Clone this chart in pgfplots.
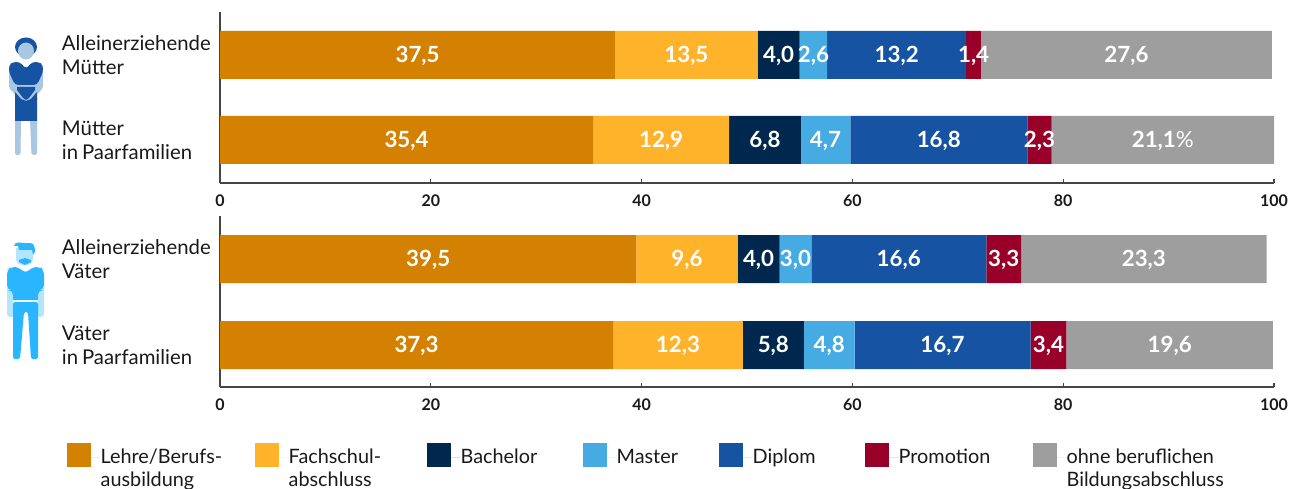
\documentclass[border=0pt]{standalone}
\usepackage{pgfplots}
\pgfplotsset{compat=1.18}
\usepackage{fontspec}
\setmainfont{Lato}
\definecolor{cLehre}{HTML}{D48000}
\definecolor{cFach}{HTML}{FFB32B}
\definecolor{cBach}{HTML}{00274D}
\definecolor{cMast}{HTML}{47ABE3}
\definecolor{cDipl}{HTML}{1653A3}
\definecolor{cProm}{HTML}{990029}
\definecolor{cOhne}{HTML}{9E9E9E}
\definecolor{cAxis}{HTML}{444444}
\definecolor{cWomanL}{HTML}{A9C6E2}
\definecolor{cManD}{HTML}{29B6FF}
\definecolor{cManL}{HTML}{B3E5FF}
\newcommand{\pct}{{\mdseries\%}}
\pgfplotsset{
  stackedbars/.style={
    xbar stacked, scale only axis, width=632.4pt, height=102.6pt,
    xmin=0, xmax=100, bar width=28.8pt, clip=false,
    axis x line*=bottom, axis y line*=left,
    axis line style={cAxis,line width=0.7pt,-},
    xtick={0,20,40,60,80,100},
    x tick style={cAxis,line width=0.7pt},
    major tick length=2.6pt, tickwidth=2.6pt,
    xtick align=inside,
    ytick={0,1},
    y tick style={draw=none},
    tick label style={font=\fontsize{9.6}{11}\selectfont\bfseries},
    /pgf/number format/assume math mode=true,
    xticklabel style={yshift=-3.4pt,text=black!90},
    yticklabel style={font=\fontsize{12.2}{14.4}\selectfont,align=left,text width=100pt,anchor=east,inner sep=0pt,xshift=5.4pt,text=black!90},
    point meta=explicit symbolic,
    nodes near coords={\pgfplotspointmeta},
    every node near coord/.append style={
      anchor=center, text=white, inner sep=0pt, yshift=-0.5pt,
      font=\fontsize{13.4}{15}\selectfont\bfseries},
    every axis plot/.append style={draw=none},
  }
}
\begin{document}
\begin{tikzpicture}
\useasboundingbox (0,0) rectangle (774pt,293.4pt);
% upper axis
\begin{axis}[stackedbars, at={(132pt,183.6pt)}, anchor=south west,
  ymin=-0.506, ymax=1.506,
  yticklabels={{Mütter\\in\kern2.3pt Paarfamilien},{Alleinerziehende\\Mütter}}]
\addplot[fill=cLehre] table[x=v,y=c,meta=l] {
v c l
35.4 0 35,4
37.5 1 37,5
};
\addplot[fill=cFach] table[x=v,y=c,meta=l] {
v c l
12.9 0 12,9
13.5 1 13,5
};
\addplot[fill=cBach] table[x=v,y=c,meta=l] {
v c l
6.8 0 6,8
4.0 1 4,0
};
\addplot[fill=cMast] table[x=v,y=c,meta=l] {
v c l
4.7 0 4,7
2.6 1 2,6
};
\addplot[fill=cDipl] table[x=v,y=c,meta=l] {
v c l
16.8 0 16,8
13.2 1 13,2
};
\addplot[fill=cProm] table[x=v,y=c,meta=l] {
v c l
2.3 0 2,3
1.4 1 1,4
};
\addplot[fill=cOhne] table[x=v,y=c,meta=l] {
v c l
21.1 0 21,1\pct
27.6 1 27,6
};
\end{axis}
% lower axis
\begin{axis}[stackedbars, at={(132pt,61.2pt)}, anchor=south west,
  ymin=-0.488, ymax=1.5,
  yticklabels={{Väter\\in\kern2.3pt Paarfamilien},{Alleinerziehende\\Väter}},
  legend columns=7,
  legend style={at={(-92pt,-33.9pt)},anchor=north west,draw=none,fill=none,
    inner sep=0pt,outer sep=0pt,
    font=\fontsize{11.9}{14}\selectfont,
    nodes={inner sep=0pt,outer sep=0pt,text=black!90},
    /tikz/every even column/.style={column sep=0pt},
    /tikz/every odd column/.style={column sep=0pt},
    column sep=0pt},
  legend cell align=left,
  legend image code/.code={\fill[#1,draw=none] (0pt,-6pt) rectangle (14.4pt,8.4pt);
     \path (0pt,0pt) -- (20.4pt,0pt);},
]
\addplot[fill=cLehre] table[x=v,y=c,meta=l] {
v c l
37.3 0 37,3
39.5 1 39,5
};
\addplot[fill=cFach] table[x=v,y=c,meta=l] {
v c l
12.3 0 12,3
9.6 1 9,6
};
\addplot[fill=cBach] table[x=v,y=c,meta=l] {
v c l
5.8 0 5,8
4.0 1 4,0
};
\addplot[fill=cMast] table[x=v,y=c,meta=l] {
v c l
4.8 0 4,8
3.0 1 3,0
};
\addplot[fill=cDipl] table[x=v,y=c,meta=l] {
v c l
16.7 0 16,7
16.6 1 16,6
};
\addplot[fill=cProm] table[x=v,y=c,meta=l] {
v c l
3.4 0 3,4
3.3 1 3,3
};
\addplot[fill=cOhne] table[x=v,y=c,meta=l] {
v c l
19.6 0 19,6
23.3 1 23,3
};
\addlegendentry{\parbox[t]{92.4pt}{Lehre/Berufs-\\ausbildung}}
\addlegendentry{\parbox[t]{82.8pt}{Fachschul-\\abschluss}}
\addlegendentry{\parbox[t]{73.2pt}{Bachelor}}
\addlegendentry{\parbox[t]{61.2pt}{Master}}
\addlegendentry{\parbox[t]{67.2pt}{Diplom}}
\addlegendentry{\parbox[t]{80.4pt}{Promotion}}
\addlegendentry{\parbox[t]{110pt}{ohne beruflichen\\Bildungsabschluss}}
\end{axis}
% icons (pixel coordinates of the reference)
\begin{scope}[x=0.6pt,y=-0.6pt,yshift=293.4pt]
% woman: arms and legs
\fill[cWomanL,rounded corners=1pt] (9,70) -- (9,88) -- (22,102) -- (26,100) -- (30,102) -- (43,88) -- (43,70) -- cycle;
\fill[cWomanL,rounded corners=1pt] (15,118) -- (21,118) -- (20.5,155) -- (15,155) -- cycle;
\fill[cWomanL,rounded corners=1pt] (30,118) -- (37,118) -- (37,155) -- (31.5,155) -- cycle;
% woman: hair and face
\fill[cDipl] (26,47) ellipse[x radius=11,y radius=9.5];
\fill[cWomanL] (26,51) ellipse[x radius=8,y radius=8.5];
% woman: dress
\fill[cDipl,rounded corners=2pt] (9,72) -- (9,65) -- (13,62) -- (20,62) -- (26,69) -- (32,62) -- (39,62) -- (43,65) -- (43,72) -- (37,85) -- (15,85) -- cycle;
\fill[cWomanL] (16,85) rectangle (36,87);
\fill[cDipl] (17,87) -- (35,87) -- (35,90) -- (29,98) -- (26,100) -- (23,98) -- (17,90) -- cycle;
\fill[cDipl] (15,98) -- (24,100) -- (26,101) -- (28,100) -- (37,98) -- (37,121) -- (15,121) -- cycle;
\fill[cDipl] (15,92) -- (22,100) -- (15,100) -- cycle;
\fill[cDipl] (37,92) -- (30,100) -- (37,100) -- cycle;
% man: arms
\fill[cManL,rounded corners=2pt] (7,275) rectangle (44,317);
\fill[white] (13,300) rectangle (38,320);
% man: trousers, shirt
\fill[cManD,rounded corners=1pt] (13,302) -- (38,302) -- (38,359) -- (31,359) -- (28,312) -- (24,312) -- (20,359) -- (13,359) -- cycle;
\fill[cManD,rounded corners=3pt] (7,290) -- (7,270) -- (11,267) -- (19,267) -- (25.5,274) -- (32,267) -- (40,267) -- (44,270) -- (44,290) -- (38,290) -- (38,300) -- (13,300) -- (13,290) -- cycle;
\fill[cManD] (13,280) rectangle (38,300);
% man: face, hair, beard
\fill[cManL] (16,248) rectangle (33,258);
\fill[cManL] (16,258) .. controls (16,264) and (20,265) .. (25,265) .. controls (30,265) and (33,264) .. (33,258) -- cycle;
\fill[cManD] (14,246) .. controls (14,240) and (24,244) .. (30,243) .. controls (34,243) and (35,247) .. (35,252) -- (33,255) -- (32,250) -- (19,250) -- (18,246) -- cycle;
\fill[cManD] (19,260) -- (25,258) -- (31,260) -- (31,262) -- (25,265) -- (19,262) -- cycle;
\end{scope}
\end{tikzpicture}
\end{document}
